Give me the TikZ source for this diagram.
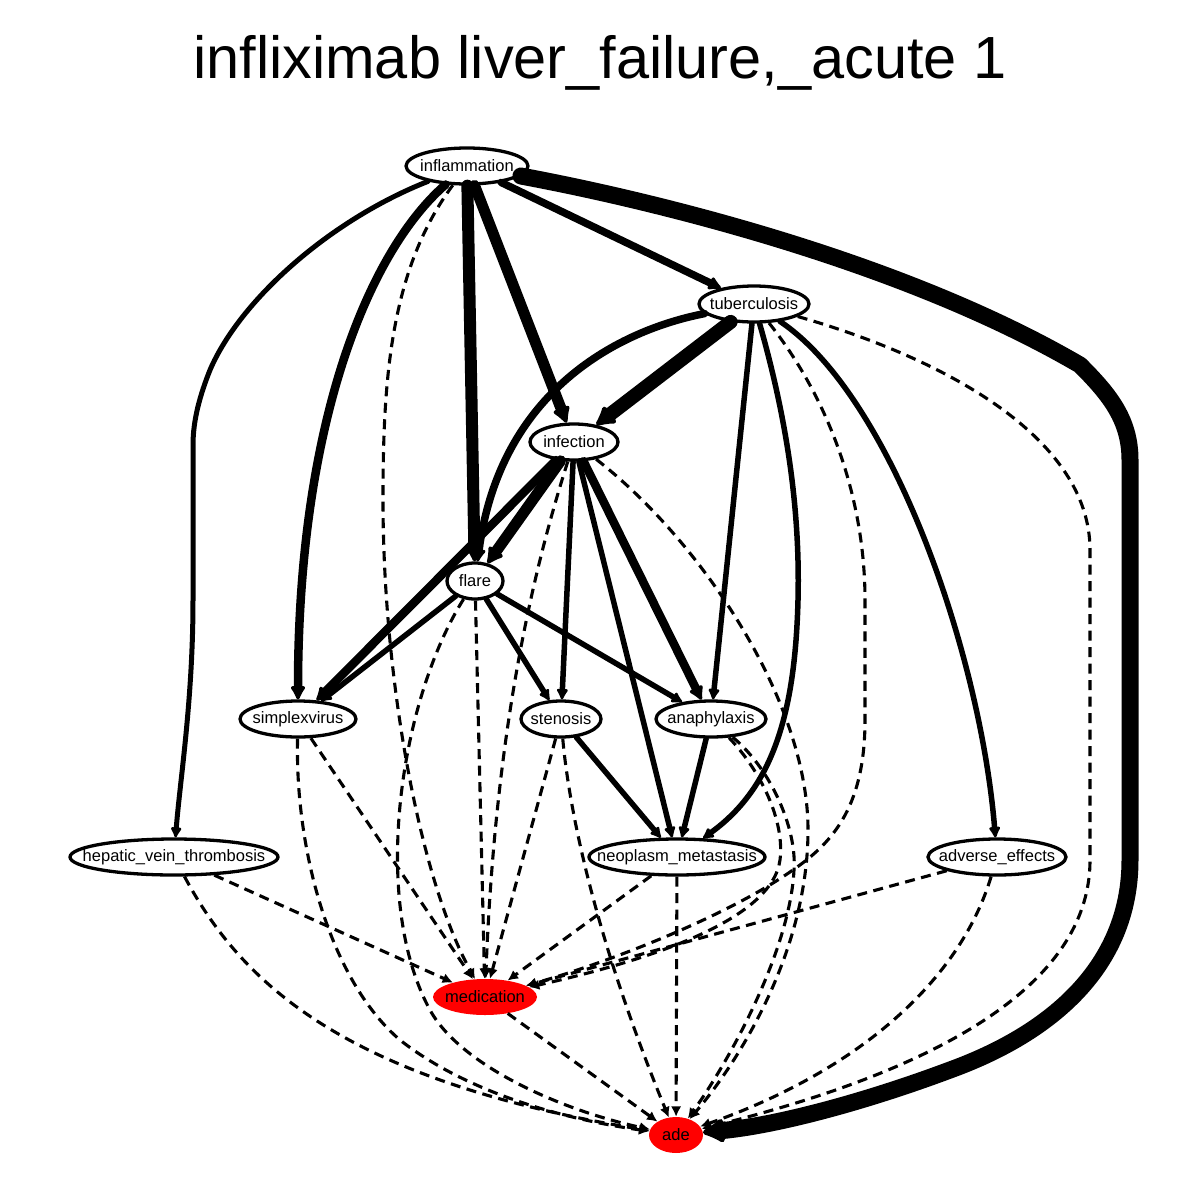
\documentclass[tikz,border=0pt]{standalone}
\usepackage{fontspec}
\setmainfont{Liberation Sans}
\usetikzlibrary{shapes.geometric,arrows.meta}
\begin{document}
\begin{tikzpicture}[x=1pt,y=-1pt,
  nd/.style={ellipse, draw, line width=3.3pt, minimum height=36pt, inner sep=0pt, fill=white},
  rd/.style={ellipse, fill=red, minimum height=36pt, inner sep=0pt},
  every label/.style={font=\fontsize{16.5}{18}\selectfont, inner sep=0pt},
  e/.style={line width=#1pt, line cap=round, line join=round, -{Latex[round,length=7pt 1.1,width=6pt 1.4]}},
  d/.style={line width=3.1pt, dash pattern=on 10pt off 6.5pt, -{Latex[length=7pt 1.1,width=6pt 1.4]}},
]
\useasboundingbox[fill=white] (0,0) rectangle (1200,1200);
\node[font=\fontsize{59.5}{70}\selectfont] (title) at (600,63) {infliximab liver\_failure,\_acute 1};

\node[nd, minimum width=122pt, label={center:inflammation}] (inflammation) at (467,166) {};
\node[nd, minimum width=110pt, label={center:tuberculosis}] (tuberculosis) at (754,304) {};
\node[nd, minimum width=88pt, label={center:infection}] (infection) at (574,442) {};
\node[nd, minimum width=56pt, label={center:flare}] (flare) at (475,581) {};
\node[nd, minimum width=116pt, label={center:simplexvirus}] (simplexvirus) at (298,719) {};
\node[nd, minimum width=80pt, label={center:stenosis}] (stenosis) at (561,719) {};
\node[nd, minimum width=110pt, label={center:anaphylaxis}] (anaphylaxis) at (711,719) {};
\node[nd, minimum width=208pt, label={center:hepatic\_vein\_thrombosis}] (hepatic_vein_thrombosis) at (174,857) {};
\node[nd, minimum width=176pt, label={center:neoplasm\_metastasis}] (neoplasm_metastasis) at (677,857) {};
\node[nd, minimum width=138pt, label={center:adverse\_effects}] (adverse_effects) at (997,857) {};
\node[rd, minimum width=104pt, label={center:medication}] (medication) at (485,997) {};
\node[rd, minimum width=54pt, label={center:ade}] (ade) at (676,1135) {};

% inflammation
\draw[e=7.5] (inflammation) -- (tuberculosis);
\draw[e=17] (inflammation) .. controls (650,200) and (900,260) .. (1080,365) .. controls (1110,395) and (1130,420) .. (1130,460) -- (1130,860) .. controls (1130,960) and (1060,1030) .. (950,1070) .. controls (870,1100) and (780,1125) .. (ade);
\draw[e=11] (inflammation) -- (infection);
\draw[e=12] (inflammation) -- (flare);
\draw[e=8.5] (inflammation) .. controls (370,250) and (298,420) .. (simplexvirus);
\draw[e=5] (inflammation) .. controls (330,220) and (240,300) .. (210,370) .. controls (200,395) and (193,420) .. (193,445) -- (193,600) .. controls (193,700) and (180,780) .. (hepatic_vein_thrombosis);
\draw[d] (inflammation) .. controls (390,270) and (383,380) .. (383,500) .. controls (383,680) and (420,880) .. (medication);

% tuberculosis
\draw[e=14] (tuberculosis) -- (infection);
\draw[e=7.5] (tuberculosis) .. controls (620,330) and (500,390) .. (flare);
\draw[e=5.5] (tuberculosis) -- (anaphylaxis);
\draw[e=5.5] (tuberculosis) .. controls (790,430) and (800,520) .. (798,600) .. controls (795,720) and (770,790) .. (neoplasm_metastasis);
\draw[e=5.5] (tuberculosis) .. controls (890,395) and (980,650) .. (adverse_effects);
\draw[d] (tuberculosis) .. controls (830,400) and (865,500) .. (865,600) -- (865,720) .. controls (865,810) and (830,845) .. (790,872) .. controls (720,920) and (600,965) .. (medication);
\draw[d] (tuberculosis) .. controls (950,360) and (1090,440) .. (1090,550) -- (1090,860) .. controls (1090,1000) and (900,1080) .. (ade);

% infection
\draw[e=11] (infection) -- (flare);
\draw[e=8.5] (infection) -- (simplexvirus);
\draw[e=5.5] (infection) -- (stenosis);
\draw[e=8.5] (infection) -- (anaphylaxis);
\draw[e=5.5] (infection) -- (neoplasm_metastasis);
\draw[d] (infection) .. controls (530,580) and (495,740) .. (medication);
\draw[d] (infection) .. controls (700,540) and (808,700) .. (808,830) .. controls (808,950) and (740,1060) .. (ade);

% flare
\draw[e=5.5] (flare) -- (simplexvirus);
\draw[e=5.5] (flare) -- (stenosis);
\draw[e=5.5] (flare) -- (anaphylaxis);
\draw[d] (flare) -- (medication);
\draw[d] (flare) .. controls (400,700) and (370,900) .. (430,1010) .. controls (460,1065) and (560,1110) .. (ade);

% simplexvirus
\draw[d] (simplexvirus) -- (medication);
\draw[d] (simplexvirus) .. controls (295,850) and (330,980) .. (400,1040) .. controls (470,1095) and (570,1120) .. (ade);

% stenosis
\draw[e=5.5] (stenosis) -- (neoplasm_metastasis);
\draw[d] (stenosis) -- (medication);
\draw[d] (stenosis) .. controls (570,820) and (600,950) .. (ade);

% anaphylaxis
\draw[e=5.5] (anaphylaxis) -- (neoplasm_metastasis);
\draw[d] (anaphylaxis) .. controls (760,770) and (785,820) .. (780,860) .. controls (772,920) and (650,960) .. (medication);
\draw[d] (anaphylaxis) .. controls (772,770) and (797,830) .. (794,870) .. controls (790,950) and (730,1060) .. (ade);

% hepatic
\draw[d] (hepatic_vein_thrombosis) -- (medication);
\draw[d] (hepatic_vein_thrombosis) .. controls (240,980) and (340,1080) .. (ade);

% neoplasm
\draw[d] (neoplasm_metastasis) -- (medication);
\draw[d] (neoplasm_metastasis) -- (ade);

% adverse
\draw[d] (adverse_effects) -- (medication);
\draw[d] (adverse_effects) .. controls (960,980) and (860,1070) .. (ade);

% medication
\draw[d] (medication) -- (ade);
\end{tikzpicture}
\end{document}
